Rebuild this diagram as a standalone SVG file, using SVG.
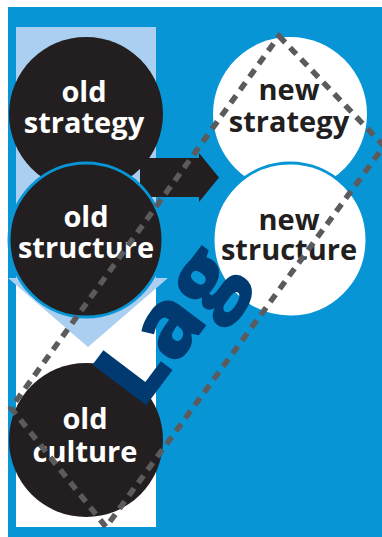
<svg xmlns="http://www.w3.org/2000/svg" width="382" height="537" viewBox="0 0 382 537">
<defs>
<style>
.lbl{font-family:"Open Sans","Liberation Sans",sans-serif;font-weight:700;font-size:29px;text-anchor:middle}
.w{fill:#ffffff}
.d{fill:#231f20}
.blk{fill:#231f20}
.wht{fill:#ffffff}
.ring{stroke:#0895d5;stroke-width:3}
.lb{fill:#aacff0}
.lag{font-family:"Open Sans","Liberation Sans",sans-serif;font-weight:800;font-size:94px;fill:#003a70;text-anchor:middle}
.dash{fill:none;stroke:#5b5b5d;stroke-width:5.5;stroke-dasharray:9 7}
</style>
</defs>
<rect x="0" y="0" width="382" height="537" fill="#ffffff"/>
<rect x="8" y="7" width="374" height="530" fill="#0895d5"/>
<rect x="16" y="27" width="140" height="500" fill="#ffffff"/>
<g id="connectors">
<path class="lb" d="M16,27 H156 V278 H168 L88,347 L8,278 H16 Z"/>
<path class="blk" d="M140,158 H199 V153 L219,177.5 L199,202 V197 H140 Z"/>
</g>
<g id="old-strategy">
<circle class="blk" cx="86" cy="114" r="77"/>
<text class="lbl w" x="84" y="102">old</text>
<text class="lbl w" x="84" y="133">strategy</text>
</g>
<g id="old-structure">
<circle class="blk ring" cx="86" cy="240" r="77"/>
<text class="lbl w" x="86" y="227">old</text>
<text class="lbl w" x="86" y="258">structure</text>
</g>
<g id="old-culture">
<circle class="blk" cx="86" cy="440" r="77"/>
<text class="lbl w" x="85" y="429">old</text>
<text class="lbl w" x="85" y="462">culture</text>
</g>
<g id="new-strategy">
<circle class="wht" cx="290" cy="114" r="77"/>
<text class="lbl d" x="289" y="100">new</text>
<text class="lbl d" x="289" y="132">strategy</text>
</g>
<g id="new-structure">
<circle class="wht ring" cx="290" cy="240" r="77"/>
<text class="lbl d" x="289" y="230">new</text>
<text class="lbl d" x="289" y="260">structure</text>
</g>
<g id="lag">
<text class="lag" transform="translate(193,343) rotate(-53)">Lag</text>
<polygon class="dash" points="279,36 384,146 106,527 11,408"/>
</g>
</svg>
